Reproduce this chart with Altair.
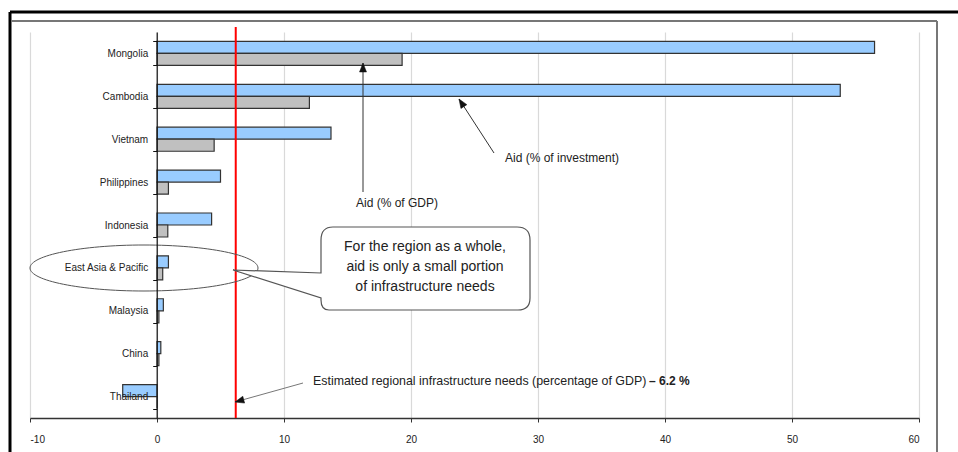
import altair as alt
import pandas as pd

countries = ["Mongolia", "Cambodia", "Vietnam", "Philippines", "Indonesia",
             "East Asia & Pacific", "Malaysia", "China", "Thailand"]
aid_investment = [56.5, 53.8, 13.7, 5.0, 4.3, 0.9, 0.5, 0.3, -2.7]
aid_gdp = [19.3, 12.0, 4.5, 0.9, 0.85, 0.45, 0.15, 0.15, 0.0]
series_names = ["Aid (% of investment)", "Aid (% of GDP)"]
series_colors = ["#99CCFF", "#C0C0C0"]
x_ticks = [-10, 0, 10, 20, 30, 40, 50, 60]
needs_value = 6.2

rows = []
for c, a, g in zip(countries, aid_investment, aid_gdp):
    rows.append({"country": c, "series": series_names[0], "value": a})
    rows.append({"country": c, "series": series_names[1], "value": g})
df = pd.DataFrame(rows)

FONT = "Liberation Sans"
OX, OY = 30, 32          # plot origin in page pixels
W, H = 889, 386
one = pd.DataFrame({"k": [0]})


def px(v):
    return alt.value(v - OX)


def py(v):
    return alt.value(v - OY)


bars = alt.Chart(df).mark_bar(stroke="#333333", strokeWidth=1.2).encode(
    y=alt.Y("country:N", sort=countries, title=None,
            scale=alt.Scale(paddingInner=0.44, paddingOuter=0.22),
            axis=alt.Axis(offset=-(156.7 - OX), tickBand="extent", tickSize=4,
                          labelPadding=5, labelFontSize=10, labelFont=FONT,
                          labelColor="#222222", domainColor="#111111",
                          tickColor="#111111", domainWidth=1.2, zindex=1,
                          grid=False)),
    yOffset=alt.YOffset("series:N", sort=series_names,
                        scale=alt.Scale(paddingInner=0, paddingOuter=0)),
    x=alt.X("value:Q", title=None,
            scale=alt.Scale(domain=[-10, 60], nice=False, zero=False),
            axis=alt.Axis(values=x_ticks, tickSize=4, labelPadding=12,
                          labelExpr="'' + datum.value",
                          labelFontSize=10, labelFont=FONT, labelColor="#222222",
                          domainColor="#333333", domainWidth=1.5,
                          tickColor="#333333", grid=True, gridColor="#D9D9D9",
                          gridWidth=1.2, zindex=0)),
    color=alt.Color("series:N", scale=alt.Scale(domain=series_names, range=series_colors),
                    legend=None),
)

red_line = alt.Chart(one).mark_rule(color="#FF0000", strokeWidth=2).encode(
    x=alt.datum(needs_value), y=py(27), y2=py(418))

ellipse = alt.Chart(one).mark_point(
    shape="M -114 0 A 114 23 0 1 0 114 0 A 114 23 0 1 0 -114 0 Z",
    size=4, filled=False, stroke="#555555", strokeWidth=1, opacity=1
).encode(x=px(144), y=py(268))

callout = alt.Chart(one).mark_point(
    shape=("M -92 -41 L 92 -41 Q 105 -41 105 -28 L 105 30 Q 105 42 93 42 "
           "L -96 42 Q -104 42 -104 32 L -104 30 L -192 2 L -104 5 "
           "L -104 -28 Q -104 -41 -92 -41 Z"),
    size=4, filled=True, fill="white", stroke="#555555", strokeWidth=1.2, opacity=1
).encode(x=px(425), y=py(268))

callout_text = alt.Chart(one).mark_text(
    font=FONT, fontSize=14, color="#222222", align="center", baseline="middle",
    lineHeight=20
).encode(x=px(425), y=py(247),
         text=alt.value(["For the region as a whole,",
                         "aid is only a small portion",
                         "of infrastructure needs"]))


def arrow(x1, y1, x2, y2, angle, color="#333333"):
    shaft = alt.Chart(one).mark_rule(color=color, strokeWidth=1).encode(
        x=px(x1), y=py(y1), x2=px(x2), y2=py(y2))
    head = alt.Chart(one).mark_point(
        shape="M 0 0 L 3.5 9 L -3.5 9 Z", size=4, filled=True, fill="#111111",
        stroke="#111111", strokeWidth=0.5, opacity=1, angle=angle
    ).encode(x=px(x2), y=py(y2))
    return shaft + head


arrow_gdp = arrow(363, 192, 363, 63, 0)
arrow_inv = arrow(494, 153, 459, 99, 327)
arrow_needs = arrow(303, 383, 235, 402, 255, color="#777777")


def label(x, y, text, size=12, align="left", weight="normal"):
    return alt.Chart(one).mark_text(
        font=FONT, fontSize=size, color="#222222", align=align,
        baseline="middle", fontWeight=weight
    ).encode(x=px(x), y=py(y), text=alt.value(text))


lbl_gdp = label(397, 203, "Aid (% of GDP)", align="center")
lbl_inv = label(505, 158, "Aid (% of investment)")
lbl_needs = label(313, 381, "Estimated regional infrastructure needs (percentage of GDP)", size=12.4)
lbl_needs_b = label(649, 381, "– 6.2 %", size=12, weight="bold")


def frame(x1, y1, x2, y2, color, w):
    return alt.Chart(one).mark_rule(color=color, strokeWidth=w).encode(
        x=px(x1), y=py(y1), x2=px(x2), y2=py(y2))


frames = (frame(10, 12, 958, 12, "#000000", 3) + frame(10, 12, 10, 452, "#000000", 3)
          + frame(11, 21, 937, 21, "#777777", 2) + frame(937, 21, 937, 452, "#777777", 2))

chart = alt.layer(
    bars, red_line, ellipse, callout, callout_text,
    arrow_gdp, arrow_inv, arrow_needs,
    lbl_gdp, lbl_inv, lbl_needs, lbl_needs_b, frames
).properties(
    width=W, height=H,
    autosize=alt.AutoSizeParams(type="none"),
    padding={"left": OX, "top": OY, "right": 958 - OX - W, "bottom": 452 - OY - H},
    background="white",
).configure_view(stroke=None)

chart.save("out.html", embed_options={"renderer": "svg", "actions": False})
